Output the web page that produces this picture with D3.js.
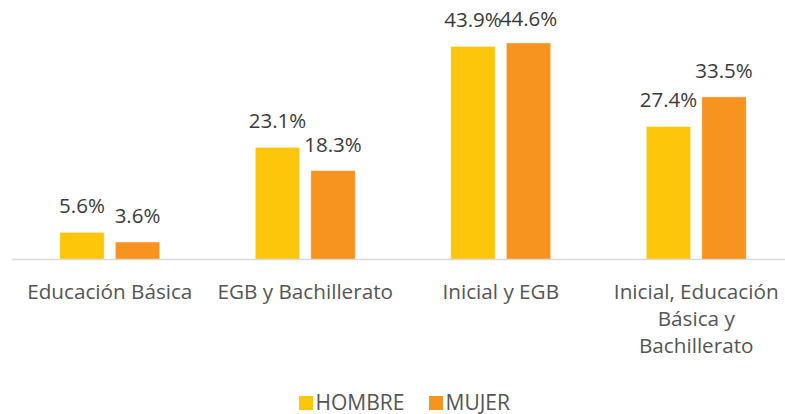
<!DOCTYPE html>
<html>
<head>
<meta charset="utf-8">
<script src="https://cdn.jsdelivr.net/npm/d3@7"></script>
<style>
  html, body { margin: 0; padding: 0; background: #ffffff; }
  svg { display: block; font-family: "Open Sans", "Noto Sans", sans-serif; }
</style>
</head>
<body>
<svg id="chart" width="785" height="414"></svg>
<script>
// Education levels offered, share by sex (%)
const categories = [
  "Educación Básica",
  "EGB y Bachillerato",
  "Inicial y EGB",
  "Inicial, Educación Básica y Bachillerato"
];
const seriesNames = ["HOMBRE", "MUJER"];
const hombre = [5.6, 23.1, 43.9, 27.4];
const mujer  = [3.6, 18.3, 44.6, 33.5];
const colors = ["#FEC60B", "#F7931F"];

const svg = d3.select("#chart");

const plot = { left: 12, right: 794, top: 16.75, bottom: 259.5 };

const x0 = d3.scaleBand()
  .domain(categories)
  .range([plot.left, plot.right])
  .padding(0);

const x1 = d3.scaleBand()
  .domain(seriesNames)
  .range([-50, 50])
  .paddingInner(0.2)
  .paddingOuter(0);

const y = d3.scaleLinear()
  .domain([0, 50])
  .range([plot.bottom, plot.top]);

const rows = categories.map((c, i) => ({
  category: c,
  values: [
    { series: seriesNames[0], value: hombre[i] },
    { series: seriesNames[1], value: mujer[i] }
  ]
}));

// Bars
const groups = svg.append("g").selectAll("g")
  .data(rows)
  .join("g")
  .attr("transform", d => `translate(${x0(d.category) + x0.bandwidth() / 2},0)`);

groups.selectAll("rect")
  .data(d => d.values)
  .join("rect")
  .attr("x", d => x1(d.series))
  .attr("y", d => y(d.value))
  .attr("width", x1.bandwidth())
  .attr("height", d => y(0) - y(d.value))
  .attr("fill", (d, i) => colors[i])
  .attr("stroke", "#ffffff")
  .attr("stroke-opacity", 0.6)
  .attr("stroke-width", 0.75);

// Value labels
groups.selectAll("text.value")
  .data(d => d.values)
  .join("text")
  .attr("class", "value")
  .attr("x", d => x1(d.series) + x1.bandwidth() / 2)
  .attr("y", d => Math.max(y(d.value) - 19, 26))
  .attr("text-anchor", "middle")
  .attr("font-size", 20.5)
  .attr("fill", "#3a3a3a")
  .text(d => d.value.toFixed(1) + "%");

// Category axis
const xAxis = d3.axisBottom(x0).tickSize(0).tickPadding(0);
const axisG = svg.append("g")
  .attr("transform", `translate(0,${plot.bottom})`)
  .call(xAxis);
axisG.select(".domain")
  .attr("d", `M${plot.left},0H785`)
  .attr("stroke", "#d9d9d9")
  .attr("stroke-width", 1.5);

axisG.selectAll(".tick text")
  .attr("font-family", "\"Open Sans\", sans-serif")
  .attr("font-size", 20.7)
  .attr("fill", "#555555")
  .attr("y", 39.5)
  .attr("dy", 0)
  .call(wrap, 185, 27);

function wrap(texts, width, lineHeight) {
  texts.each(function () {
    const text = d3.select(this);
    const words = text.text().split(/\s+/);
    const yy = text.attr("y");
    text.text(null);
    let line = [];
    let lineNo = 0;
    let tspan = text.append("tspan").attr("x", 0).attr("y", yy);
    for (const w of words) {
      line.push(w);
      tspan.text(line.join(" "));
      if (tspan.node().getComputedTextLength() > width && line.length > 1) {
        line.pop();
        tspan.text(line.join(" "));
        line = [w];
        lineNo += 1;
        tspan = text.append("tspan")
          .attr("x", 0)
          .attr("y", +yy + lineNo * lineHeight)
          .text(w);
      }
    }
  });
}

// Legend
const legend = svg.append("g").attr("transform", "translate(299,396)");
const legendOffsets = [0, 130];
const items = legend.selectAll("g")
  .data(seriesNames)
  .join("g")
  .attr("transform", (d, i) => `translate(${legendOffsets[i]},0)`);
items.append("rect")
  .attr("width", 14)
  .attr("height", 14)
  .attr("fill", (d, i) => colors[i]);
items.append("text")
  .attr("x", 16.5)
  .attr("y", 13.5)
  .attr("font-size", 21)
  .attr("fill", "#555555")
  .text(d => d);
</script>
</body>
</html>
